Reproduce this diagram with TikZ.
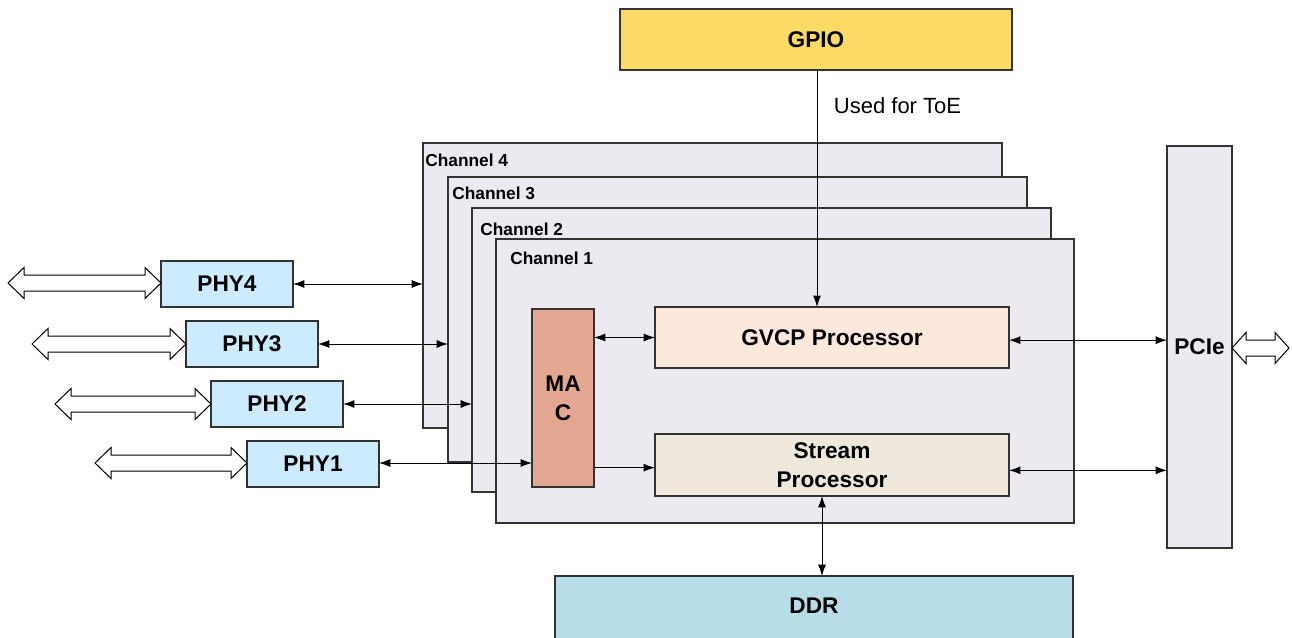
\documentclass[tikz,border=0pt]{standalone}
\usepackage{fontspec}
\setmainfont{Liberation Sans}
\usetikzlibrary{arrows.meta,calc}
\definecolor{gpiofill}{HTML}{FDD966}
\definecolor{chfill}{HTML}{ECE9F1}
\definecolor{macfill}{HTML}{E4A792}
\definecolor{gvcpfill}{HTML}{FCE9DB}
\definecolor{strfill}{HTML}{EFE8DC}
\definecolor{phyfill}{HTML}{CCEBFF}
\definecolor{ddrfill}{HTML}{B7DDE8}
\definecolor{edge}{HTML}{333333}
\newcommand\blk[7]{% name, x1, y1, x2, y2, style, text
  \node[#6, minimum width={(#4-#2)*0.75pt}, minimum height={(#5-#3)*0.75pt}]
    (#1) at ({(#2+#4)/2},{(#3+#5)/2}) {#7};}
\newcommand\fatarrow[4]{% x1, x2, yc, head length
  \draw[fatline] (#1,#3) -- ({#1+#4},{#3-15.5}) -- ({#1+#4},{#3-8}) -- ({#2-#4},{#3-8})
    -- ({#2-#4},{#3-15.5}) -- (#2,#3) -- ({#2-#4},{#3+15.5}) -- ({#2-#4},{#3+8})
    -- ({#1+#4},{#3+8}) -- ({#1+#4},{#3+15.5}) -- cycle;}
\tikzset{
  blkbox/.style={draw=edge, line width=0.9pt, inner sep=0pt, outer sep=0pt,
    font=\fontsize{17}{20}\selectfont\bfseries, align=center},
  chbox/.style={draw=edge, line width=0.9pt, fill=chfill, inner sep=0pt, outer sep=0pt},
  chlabel/.style={anchor=west, inner sep=0pt, font=\fontsize{13}{15}\selectfont\bfseries},
  conn/.style={line width=0.75pt, >={Latex[length=8.5pt,width=6pt]}},
  fatline/.style={draw=black, line width=0.75pt, fill=white, line join=miter},
}
\begin{document}
\begin{tikzpicture}[x=0.75pt,y=-0.75pt]
\useasboundingbox (0,0) rectangle (1292,638);
% GPIO
\blk{gpio}{620}{9}{1012}{70}{blkbox,fill=gpiofill}{GPIO}
% channels
\blk{ch4}{423}{143}{1002}{428}{chbox}{}
\node[chlabel] (l4) at (425,160) {Channel 4};
\blk{ch3}{448}{177}{1027}{462}{chbox}{}
\node[chlabel] (l3) at (452,193) {Channel 3};
\blk{ch2}{472}{208}{1051}{492}{chbox}{}
\node[chlabel] (l2) at (480,229) {Channel 2};
\blk{ch1}{496}{239}{1074}{523}{chbox}{}
\node[chlabel] (l1) at (510,258) {Channel 1};
% inner blocks
\blk{mac}{532}{309}{594}{487}{blkbox,fill=macfill,font=\fontsize{17}{21.5}\selectfont\bfseries}{MA\\C}
\blk{gvcp}{655}{307}{1009}{368}{blkbox,fill=gvcpfill}{GVCP Processor}
\blk{stream}{655}{434}{1009}{496}{blkbox,fill=strfill,font=\fontsize{17}{21.5}\selectfont\bfseries}{Stream\\Processor}
% PCIe
\blk{pcie}{1167}{146}{1232}{548}{blkbox,fill=chfill}{PCIe}
% DDR
\blk{ddr}{555}{576}{1073}{648}{blkbox,fill=ddrfill,text depth=0pt}{}
\node[font=\fontsize{17}{20}\selectfont\bfseries] (ddrt) at (814,606) {DDR};
% PHYs
\blk{phy4}{161}{261}{293}{307}{blkbox,fill=phyfill}{PHY4}
\blk{phy3}{186}{321}{318}{367}{blkbox,fill=phyfill}{PHY3}
\blk{phy2}{211}{381}{343}{427}{blkbox,fill=phyfill}{PHY2}
\blk{phy1}{247}{441}{379}{487}{blkbox,fill=phyfill}{PHY1}
% fat external arrows
\fatarrow{8}{161}{283}{16}
\fatarrow{32}{186}{344}{16}
\fatarrow{55}{211}{404}{16}
\fatarrow{95}{247}{463}{16}
\fatarrow{1232}{1289}{348}{14}
% connectors
\draw[conn,<->] (phy4.east) -- (phy4.east -| ch4.west);
\draw[conn,<->] (phy3.east) -- (phy3.east -| ch3.west);
\draw[conn,<->] (phy2.east) -- (phy2.east -| ch2.west);
\draw[conn,<->] ([yshift=0.75pt]phy1.east) -- ([yshift=0.75pt]phy1.east -| mac.west);
\draw[conn,<->] (gvcp.west -| mac.east) -- (gvcp.west);
\draw[conn,->] ([yshift=-2pt]stream.west -| mac.east) -- ([yshift=-2pt]stream.west);
\draw[conn,<->] ([yshift=-2pt]gvcp.east) -- ([yshift=-2pt]gvcp.east -| pcie.west);
\draw[conn,<->] ([yshift=-4pt]stream.east) -- ([yshift=-4pt]stream.east -| pcie.west);
\draw[conn,<->] ([xshift=-7.5pt]stream.south) -- ([xshift=-7.5pt]stream.south |- ddr.north);
\draw[conn,->] ([xshift=0.75pt]gpio.south) -- ([xshift=0.75pt]gpio.south |- gvcp.north)
  node[pos=0.15, anchor=west, xshift=9pt, font=\fontsize{16.5}{19}\selectfont] (toe) {Used for ToE};
\end{tikzpicture}
\end{document}
